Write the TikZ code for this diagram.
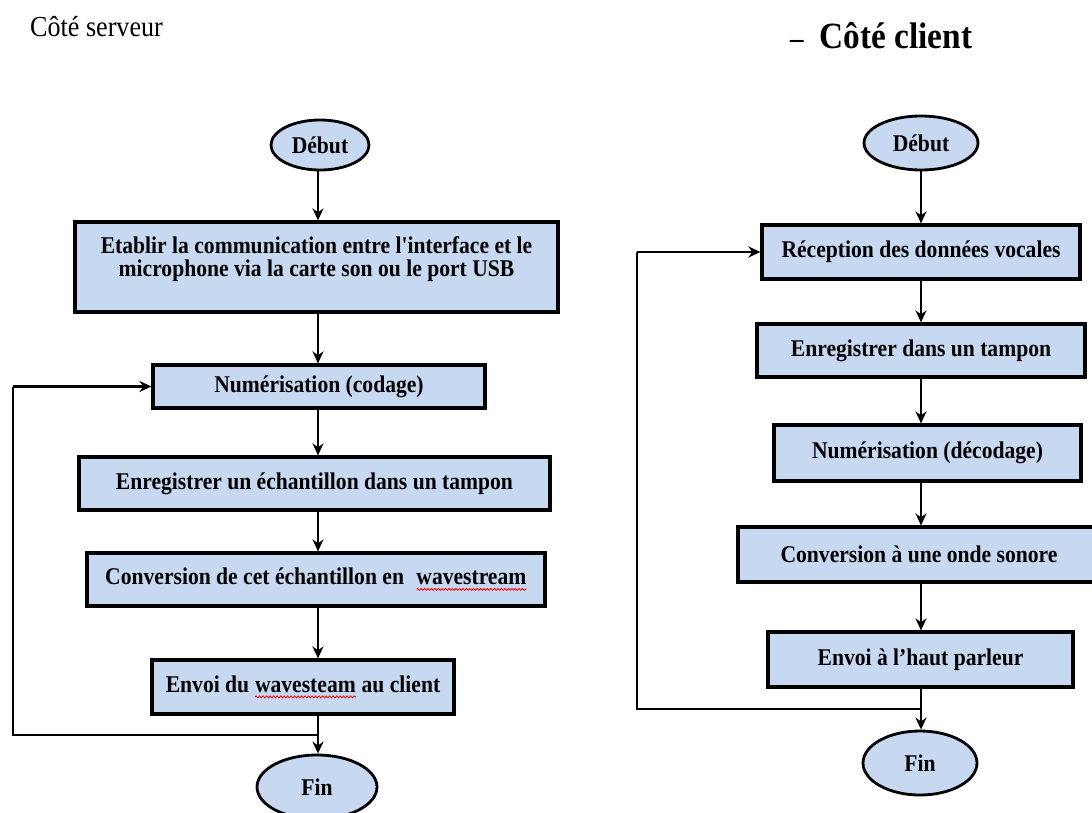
\documentclass[tikz,border=0pt]{standalone}
\usepackage{fontspec}
\setmainfont{Liberation Serif}
\newfontfamily\boxfont{Liberation Serif}[FakeStretch=0.9]
\usetikzlibrary{shapes.geometric,arrows.meta,decorations.pathmorphing}
\definecolor{boxblue}{RGB}{198,217,241}
% red wavy underline, as a spell checker marks a word
\newcommand\redwave[1]{\tikz[baseline=(wordmark.base)]{%
  \node[rectangle, inner sep=0pt, outer sep=0pt, minimum width=0pt, minimum height=0pt,
        draw=none, fill=none] (wordmark) {#1};
  \draw[red, line width=0.8pt, decorate, decoration={snake, amplitude=1pt, segment length=3.5pt}]
    ([yshift=-4.5pt]wordmark.base west) -- ([yshift=-4.5pt]wordmark.base east);}}
\tikzset{
  procbox/.style={draw=black, line width=3.2pt, fill=boxblue, inner sep=0pt,
    font=\boxfont\bfseries\fontsize{24}{26}\selectfont},
  termnode/.style={ellipse, draw=black, line width=2.8pt, fill=boxblue, inner sep=0pt,
    font=\boxfont\bfseries\fontsize{24}{26}\selectfont},
  boxtext/.style={font=\boxfont\bfseries\fontsize{24}{23}\selectfont, align=center, inner sep=0pt},
  flow/.style={line width=2.8pt, -{Stealth[length=12pt,width=11pt]}},
  thinflow/.style={line width=2pt, -{Stealth[length=12pt,width=11pt]}},
  back/.style={line width=2.4pt},
  heading/.style={anchor=base west, inner sep=0pt}
}
\begin{document}
\begin{tikzpicture}[x=1pt, y=-1pt]
\fill[white] (0,0) rectangle (1092,813);
\useasboundingbox (0,0) rectangle (1092,813);

% headings
\node[heading, font=\boxfont\fontsize{29}{31}\selectfont] (hserv) at (30,37) {Côté serveur};
\node[heading, font=\boxfont\bfseries\fontsize{37}{39}\selectfont] (hcli) at (790,49) {{\fontsize{30}{30}\selectfont –}\hspace{16pt}Côté client};

% ---------- server side ----------
\coordinate (axL) at (318,0);
\node[termnode, minimum width=98pt, minimum height=50pt] (debS) at (320,145) {Début};
\node[procbox, minimum width=483pt, minimum height=90pt] (s1) at (316.5,267) {};
\node[boxtext] (s1t) at (316.5,259) {Etablir la communication entre l'interface et le\\microphone via la carte son ou le port USB};
\node[procbox, minimum width=332pt, minimum height=43pt] (s2) at (319,386.5) {Numérisation (codage)};
\node[procbox, minimum width=471pt, minimum height=53pt] (s3) at (314.5,483.5) {Enregistrer un échantillon dans un tampon};
\node[procbox, minimum width=458pt, minimum height=53pt] (s4) at (316,579.5) {Conversion de cet échantillon en\enspace\redwave{wavestream}};
\node[procbox, minimum width=302pt, minimum height=54pt] (s5) at (303,687) {Envoi du \redwave{wavesteam} au client};
\node[termnode, minimum width=120pt, minimum height=64pt] (finS) at (317,787) {Fin};
\coordinate (jS) at (318,735);
\coordinate (loopS) at (13,735);

\draw[flow] (debS.south -| axL) -- (s1.north -| axL);
\draw[flow] (s1.south -| axL) -- (s2.north -| axL);
\draw[flow] (s2.south -| axL) -- (s3.north -| axL);
\draw[flow] (s3.south -| axL) -- (s4.north -| axL);
\draw[flow] (s4.south -| axL) -- (s5.north -| axL);
\draw[flow] (s5.south -| axL) -- (finS.north -| axL);
\draw[back] (jS) -- (loopS) -- (loopS |- s2.west);
\draw[flow, line width=2.4pt] (loopS |- s2.west) -- (s2.west);

% ---------- client side ----------
\coordinate (axR) at (921,0);
\node[termnode, minimum width=114pt, minimum height=54pt] (debC) at (921,143) {Début};
\node[procbox, minimum width=318pt, minimum height=54pt] (c1) at (921,252) {Réception des données vocales};
\node[procbox, minimum width=328pt, minimum height=53pt] (c2) at (921,350.5) {Enregistrer dans un tampon};
\node[procbox, minimum width=307pt, minimum height=56pt] (c3) at (927.5,453) {Numérisation (décodage)};
\node[procbox, minimum width=362pt, minimum height=55pt] (c4) at (919,554.5) {Conversion à une onde sonore};
\node[procbox, minimum width=305pt, minimum height=55pt] (c5) at (920.5,659.5) {Envoi à l’haut parleur};
\node[termnode, minimum width=114pt, minimum height=64pt] (finC) at (920,763) {Fin};
\coordinate (jC) at (921,709);
\coordinate (loopC) at (637,709);

\draw[thinflow] (debC.south -| axR) -- (c1.north -| axR);
\draw[flow] (c1.south -| axR) -- (c2.north -| axR);
\draw[flow] (c2.south -| axR) -- (c3.north -| axR);
\draw[flow] (c3.south -| axR) -- (c4.north -| axR);
\draw[flow] (c4.south -| axR) -- (c5.north -| axR);
\draw[flow] (c5.south -| axR) -- (finC.north -| axR);
\draw[back] (jC) -- (loopC) -- (loopC |- c1.west);
\draw[flow, line width=2.4pt] (loopC |- c1.west) -- (c1.west);
\end{tikzpicture}
\end{document}
